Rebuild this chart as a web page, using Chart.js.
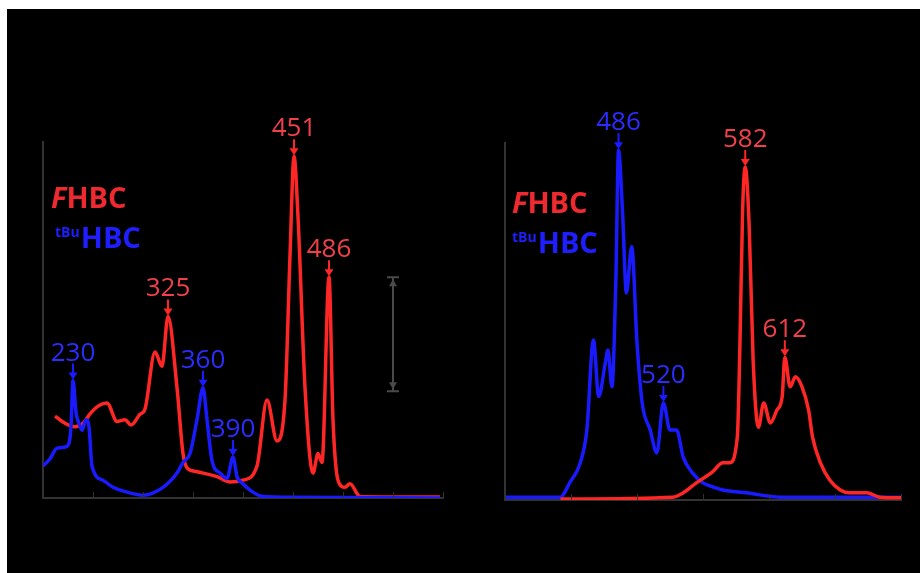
<!DOCTYPE html>
<html>
<head>
<meta charset="utf-8">
<script src="https://cdn.jsdelivr.net/npm/chart.js@4.4.0/dist/chart.umd.min.js"></script>
<style>
  html, body { margin: 0; padding: 0; background: #fff; }
  #frame { position: absolute; left: 7px; top: 9px; width: 913px; height: 564px; background: #000; }
  canvas { position: absolute; left: 0; top: 0; }
  .key { position: absolute; font-family: 'Open Sans', sans-serif; font-weight: 700; font-size: 29px; line-height: 29px; white-space: nowrap; }
  .red { color: #ee2a30; }
  .blue { color: #1e1eff; }
  .key sup { font-size: 14px; line-height: 0; vertical-align: 11px; margin-right: 1px; }
</style>
</head>
<body>
<div id="frame"></div>
<canvas id="leftChart" width="920" height="573"></canvas>
<canvas id="rightChart" width="920" height="573"></canvas>
<div class="key red" style="left:51px;top:182px"><i>F</i>HBC</div>
<div class="key blue" style="left:55px;top:222px"><sup>tBu</sup>HBC</div>
<div class="key red" style="left:512px;top:187px"><i>F</i>HBC</div>
<div class="key blue" style="left:512px;top:227px"><sup>tBu</sup>HBC</div>
<script>
(function() {
    'use strict';

    // left panel: wavelength (nm) and normalised intensity
    const leftRedNm = [212, 222, 232, 240, 248, 256, 264, 274, 282, 288, 297, 302, 312, 319, 325, 334, 340, 344, 352, 360, 374, 387, 400, 414, 424, 434, 442, 447, 451, 455, 462, 470, 475, 479, 486, 490, 495, 502, 507, 517, 540, 597];
    const leftRedVal = [23, 21, 20, 21, 24, 26, 26.7, 21.5, 22, 20.5, 23.5, 25, 41, 37, 51, 31, 12.5, 8.5, 7.5, 7, 6, 4.5, 5, 9, 27.5, 16, 27.5, 68, 96, 79, 31, 7, 12.5, 10, 62, 22, 5, 3, 4, 0.4, 0.3, 0.3];

    const leftBlueNm = [200, 207, 214, 224, 228, 230, 233, 236, 239, 243, 246, 249, 260, 270, 280, 300, 320, 334, 340, 347, 354, 360, 364, 369, 377, 384, 390, 394, 400, 407, 420, 450, 597];
    const leftBlueVal = [9, 11, 14, 14.5, 20, 33, 24, 21, 19, 22, 20, 9, 5, 3, 2, 0.8, 3, 7, 10, 12.5, 22, 31, 22, 10.5, 7, 5.5, 11.5, 6, 4, 2.2, 0.4, 0.2, 0];

    // right panel
    const rightBlueNm = [400, 442, 449, 457, 462, 467, 471, 476, 478, 481, 484, 486, 489, 492, 496, 500, 504, 510, 515, 520, 525, 530, 535, 542, 550, 558, 565, 583, 608, 700];
    const rightBlueVal = [0.8, 0.8, 4.8, 10.4, 19.6, 44.8, 29, 38.4, 42, 31.7, 62, 98, 81, 58, 71, 44, 27, 19.6, 13.2, 27.2, 19.6, 19.6, 12, 7.6, 4.8, 3.6, 2.8, 2, 0.8, 0.8];

    const rightRedNm = [442, 527, 535, 545, 557, 565, 570, 576, 578, 580, 582, 585, 588, 592, 596, 601, 606, 610, 612, 616, 620, 625, 630, 633, 639, 646, 654, 661, 674, 684, 700];
    const rightRedVal = [0.3, 0.8, 2, 4.8, 7.8, 10.4, 10.4, 17.6, 44, 81, 93.3, 76.5, 39, 20.4, 27.2, 21.6, 25.2, 29, 40, 31.7, 34.5, 31.7, 25.2, 17.6, 10.4, 5.6, 2.8, 2, 2, 0.8, 0.6];

    // labelled peaks
    const leftRedPeaks = [325, 451, 486];
    const leftBluePeaks = [230, 360, 390];
    const rightBluePeaks = [486, 520];
    const rightRedPeaks = [582, 612];

    // intensity scale bar (left panel)
    const scaleBarNm = 550;
    const scaleBarRange = [30, 62];

    const RED = '#ff2626';
    const BLUE = '#1a1aff';
    const RED_TEXT = '#f0404a';
    const BLUE_TEXT = '#2c2cff';

    function toPoints(xs, ys) {
        return xs.map((v, i) => ({ x: v, y: ys[i] }));
    }

    function valueAt(xs, ys, nm) {
        const i = xs.indexOf(nm);
        return i >= 0 ? ys[i] : 0;
    }

    function drawArrow(ctx, px, top, tip, color) {
        ctx.strokeStyle = color;
        ctx.fillStyle = color;
        ctx.lineWidth = 2;
        ctx.beginPath();
        ctx.moveTo(px, top);
        ctx.lineTo(px, tip - 5);
        ctx.stroke();
        ctx.beginPath();
        ctx.moveTo(px - 4.5, tip - 7);
        ctx.lineTo(px + 4.5, tip - 7);
        ctx.lineTo(px, tip);
        ctx.closePath();
        ctx.fill();
    }

    const peakMarks = {
        id: 'peakMarks',
        afterDatasetsDraw(chart, args, opts) {
            const ctx = chart.ctx;
            const x = chart.scales.x;
            const y = chart.scales.y;
            ctx.save();

            // small inward ticks on the wavelength axis
            ctx.strokeStyle = '#2c332c';
            ctx.lineWidth = 1;
            x.ticks.forEach(t => {
                const px = Math.round(x.getPixelForValue(t.value)) + 0.5;
                ctx.beginPath();
                ctx.moveTo(px, y.bottom);
                ctx.lineTo(px, y.bottom - 6);
                ctx.stroke();
            });

            if (opts.bar) {
                const bx = x.getPixelForValue(opts.bar.nm);
                const b1 = y.getPixelForValue(opts.bar.range[1]);
                const b0 = y.getPixelForValue(opts.bar.range[0]);
                ctx.strokeStyle = '#4a4a4a';
                ctx.fillStyle = '#4a4a4a';
                ctx.lineWidth = 2;
                ctx.beginPath();
                ctx.moveTo(bx, b1); ctx.lineTo(bx, b0);
                ctx.moveTo(bx - 6, b1); ctx.lineTo(bx + 6, b1);
                ctx.moveTo(bx - 6, b0); ctx.lineTo(bx + 6, b0);
                ctx.stroke();
                ctx.beginPath();
                ctx.moveTo(bx - 4, b1 + 9); ctx.lineTo(bx + 4, b1 + 9); ctx.lineTo(bx, b1 + 2);
                ctx.closePath(); ctx.fill();
                ctx.beginPath();
                ctx.moveTo(bx - 4, b0 - 9); ctx.lineTo(bx + 4, b0 - 9); ctx.lineTo(bx, b0 - 2);
                ctx.closePath(); ctx.fill();
            }

            ctx.font = '400 26px "Open Sans", sans-serif';
            ctx.textAlign = 'center';
            ctx.textBaseline = 'alphabetic';
            opts.marks.forEach(m => {
                m.peaks.forEach(nm => {
                    const px = x.getPixelForValue(nm);
                    const py = y.getPixelForValue(valueAt(m.xs, m.ys, nm));
                    drawArrow(ctx, px, py - 17, py - 1, m.arrow);
                    ctx.fillStyle = m.text;
                    ctx.fillText(String(nm), px, py - 20);
                });
            });
            ctx.restore();
        }
    };

    function makeChart(id, cfg) {
        const axisBorder = { display: true, color: '#333333', width: 2 };
        return new Chart(document.getElementById(id), {
            type: 'line',
            data: {
                datasets: [
                    {
                        label: 'FHBC',
                        data: toPoints(cfg.redNm, cfg.redVal),
                        borderColor: RED,
                        borderWidth: 3.5,
                        pointRadius: 0,
                        cubicInterpolationMode: 'monotone',
                        order: cfg.redOrder
                    },
                    {
                        label: 'tBuHBC',
                        data: toPoints(cfg.blueNm, cfg.blueVal),
                        borderColor: BLUE,
                        borderWidth: 3.5,
                        pointRadius: 0,
                        cubicInterpolationMode: 'monotone',
                        order: cfg.blueOrder
                    }
                ]
            },
            options: {
                responsive: false,
                animation: false,
                events: [],
                layout: { padding: cfg.padding },
                plugins: {
                    legend: { display: false },
                    tooltip: { enabled: false },
                    peakMarks: {
                        bar: cfg.bar,
                        marks: [
                            { peaks: cfg.redPeaks, xs: cfg.redNm, ys: cfg.redVal, arrow: RED, text: RED_TEXT },
                            { peaks: cfg.bluePeaks, xs: cfg.blueNm, ys: cfg.blueVal, arrow: BLUE, text: BLUE_TEXT }
                        ]
                    }
                },
                scales: {
                    x: {
                        type: 'linear',
                        min: cfg.xMin,
                        max: cfg.xMax,
                        ticks: { display: false, stepSize: 50 },
                        grid: { display: false },
                        border: axisBorder
                    },
                    y: {
                        min: 0,
                        max: 100,
                        ticks: { display: false },
                        grid: { display: false },
                        border: axisBorder
                    }
                }
            },
            plugins: [peakMarks]
        });
    }

    makeChart('leftChart', {
        redNm: leftRedNm, redVal: leftRedVal,
        blueNm: leftBlueNm, blueVal: leftBlueVal,
        redPeaks: leftRedPeaks, bluePeaks: leftBluePeaks,
        redOrder: 2, blueOrder: 1,
        xMin: 200, xMax: 600,
        bar: { nm: scaleBarNm, range: scaleBarRange },
        padding: { left: 35, top: 142, right: 477, bottom: 67 }
    });

    makeChart('rightChart', {
        redNm: rightRedNm, redVal: rightRedVal,
        blueNm: rightBlueNm, blueVal: rightBlueVal,
        redPeaks: rightRedPeaks, bluePeaks: rightBluePeaks,
        redOrder: 1, blueOrder: 2,
        xMin: 400, xMax: 700,
        bar: null,
        padding: { left: 497, top: 143, right: 19, bottom: 65 }
    });
})();
</script>
</body>
</html>
